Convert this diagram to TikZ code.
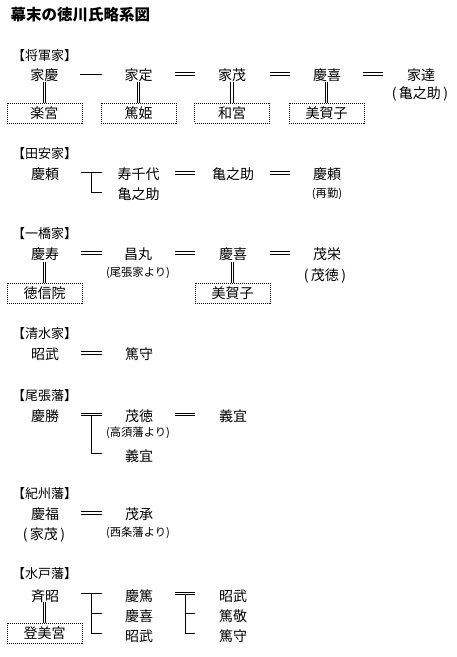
\documentclass[tikz,border=0pt]{standalone}
\usepackage{fontspec}
\setmainfont{Noto Sans CJK JP}
\begin{document}
\begin{tikzpicture}[x=1pt,y=-1pt,
  nm/.style={font=\fontsize{14}{14}\selectfont, inner sep=0pt, text height=12.3pt, text depth=1.7pt, anchor=center},
  sm/.style={font=\fontsize{11.3}{11.3}\selectfont, inner sep=0pt, text height=9.9pt, text depth=1.4pt, anchor=center},
  hd/.style={font=\fontsize{13}{13}\selectfont, inner sep=0pt, text height=11.4pt, text depth=1.6pt, anchor=west},
  tt/.style={font=\fontsize{15.5}{15.5}\bfseries\selectfont, inner sep=0pt, text height=13.6pt, text depth=1.9pt, anchor=west},
  bx/.style={draw, dash pattern=on 1pt off 1pt, line width=1pt, minimum width=75pt, minimum height=20pt, inner sep=0pt, font=\fontsize{14}{14}\selectfont, text height=12.3pt, text depth=1.7pt},
  ln/.style={line width=1pt},
  dbl/.style={line width=1pt, double, double distance=1.5pt}]
\useasboundingbox[fill=white] (0,0) rectangle (457,657);
\node[tt] (title) at (10.5,15) {幕末の徳川氏略系図};
% ---- 将軍家
\node[hd] (h1) at (12,56) {【将軍家】};
\node[nm] (a1) at (44.5,75) {家慶};
\node[nm] (a2) at (138.5,75) {家定};
\node[nm] (a3) at (232,75) {家茂};
\node[nm] (a4) at (327,75) {慶喜};
\node[nm] (a5) at (421,75) {家達};
\node[nm] (a5n) at (420,93) {(\,亀之助\,)};
\node[bx] (b1) at (44.5,113) {楽宮};
\node[bx] (b2) at (138.5,113) {篤姫};
\node[bx] (b3) at (232,113) {和宮};
\node[bx] (b4) at (326.5,113) {美賀子};
\coordinate (c1a) at (80,74); \coordinate (c1b) at (102,74);
\coordinate (c2a) at (175,74); \coordinate (c2b) at (195,74);
\coordinate (c3a) at (270,74); \coordinate (c3b) at (290,74);
\coordinate (c4a) at (363,74); \coordinate (c4b) at (383,74);
\draw[ln] (c1a) -- (c1b);
\draw[dbl] (c2a) -- (c2b);
\draw[dbl] (c3a) -- (c3b);
\draw[dbl] (c4a) -- (c4b);
\foreach \b in {b1,b2,b3,b4} \draw[dbl] (\b.north) -- ++(0,-21);
% ---- 田安家
\node[hd] (h2) at (12,154) {【田安家】};
\node[nm] (t1) at (45,174) {慶頼};
\node[nm] (t2) at (138.5,174) {寿千代};
\node[nm] (t3) at (138.5,194) {亀之助};
\node[nm] (t4) at (233,174) {亀之助};
\node[nm] (t5) at (327,174) {慶頼};
\node[sm] (t5n) at (327,193) {(再勤)};
\coordinate (d1a) at (81,172.5); \coordinate (d1b) at (102,172.5);
\coordinate (d1c) at (91,172.5); \coordinate (d1d) at (91,192.5); \coordinate (d1e) at (102,192.5);
\draw[ln] (d1a) -- (d1b);
\draw[ln] (d1c) -- (d1d) -- (d1e);
\coordinate (d2a) at (175,173); \coordinate (d2b) at (195,173);
\coordinate (d3a) at (270,173); \coordinate (d3b) at (290,173);
\draw[dbl] (d2a) -- (d2b);
\draw[dbl] (d3a) -- (d3b);
% ---- 一橋家
\node[hd] (h3) at (12,234) {【一橋家】};
\node[nm] (k1) at (45,254) {慶寿};
\node[nm] (k2) at (138,254) {昌丸};
\node[sm] (k2n) at (138,272) {(尾張家より)};
\node[nm] (k3) at (233,254) {慶喜};
\node[nm] (k4) at (327,254) {茂栄};
\node[nm] (k4n) at (325,275) {(\,茂徳\,)};
\node[bx] (kb1) at (44.5,293) {徳信院};
\node[bx] (kb2) at (232.5,293) {美賀子};
\coordinate (e1a) at (81,253); \coordinate (e1b) at (102,253);
\coordinate (e2a) at (175,253); \coordinate (e2b) at (195,253);
\coordinate (e3a) at (270,253); \coordinate (e3b) at (290,253);
\draw[dbl] (e1a) -- (e1b);
\draw[dbl] (e2a) -- (e2b);
\draw[dbl] (e3a) -- (e3b);
\draw[dbl] (kb1.north) -- ++(0,-21);
\draw[dbl] (kb2.north) -- ++(0,-21);
% ---- 清水家
\node[hd] (h4) at (12,334) {【清水家】};
\node[nm] (s1) at (45,354) {昭武};
\node[nm] (s2) at (139,354) {篤守};
\coordinate (f1a) at (81,353); \coordinate (f1b) at (102,353);
\draw[dbl] (f1a) -- (f1b);
% ---- 尾張藩
\node[hd] (h5) at (12,396) {【尾張藩】};
\node[nm] (o1) at (45,416) {慶勝};
\node[nm] (o2) at (139,416) {茂徳};
\node[sm] (o2n) at (138,432) {(高須藩より)};
\node[nm] (o3) at (139,456) {義宜};
\node[nm] (o4) at (233,416) {義宜};
\coordinate (g1a) at (81,414.5); \coordinate (g1b) at (102,414.5);
\coordinate (g1c) at (91,415.8); \coordinate (g1d) at (91,453.5); \coordinate (g1e) at (102,453.5);
\draw[dbl] (g1a) -- (g1b);
\draw[ln] (g1c) -- (g1d) -- (g1e);
\coordinate (g2a) at (175,414.5); \coordinate (g2b) at (195,414.5);
\draw[dbl] (g2a) -- (g2b);
% ---- 紀州藩
\node[hd] (h6) at (12,494) {【紀州藩】};
\node[nm] (w1) at (45,514) {慶福};
\node[nm] (w1n) at (44,534) {(\,家茂\,)};
\node[nm] (w2) at (139,514) {茂承};
\node[sm] (w2n) at (138,532) {(西条藩より)};
\coordinate (h1a) at (81,513); \coordinate (h1b) at (102,513);
\draw[dbl] (h1a) -- (h1b);
% ---- 水戸藩
\node[hd] (h7) at (12,574) {【水戸藩】};
\node[nm] (m1) at (45,596) {斉昭};
\node[nm] (m2) at (139,596) {慶篤};
\node[nm] (m3) at (139,616) {慶喜};
\node[nm] (m4) at (139,636) {昭武};
\node[nm] (m5) at (233,596) {昭武};
\node[nm] (m6) at (233,616) {篤敬};
\node[nm] (m7) at (233,636) {篤守};
\node[bx] (mb1) at (44.5,633) {登美宮};
\draw[dbl] (mb1.north) -- ++(0,-21);
\coordinate (i1a) at (81,593.5); \coordinate (i1b) at (102,593.5);
\coordinate (i1c) at (91,593.5); \coordinate (i1d) at (91,633.5); \coordinate (i1e) at (102,633.5);
\coordinate (i1f) at (91,613.5); \coordinate (i1g) at (102,613.5);
\draw[ln] (i1a) -- (i1b);
\draw[ln] (i1c) -- (i1d) -- (i1e);
\draw[ln] (i1f) -- (i1g);
\coordinate (i2a) at (175,593.5); \coordinate (i2b) at (195,593.5);
\coordinate (i2c) at (185,594.8); \coordinate (i2d) at (185,633.5); \coordinate (i2e) at (195,633.5);
\coordinate (i2f) at (185,613.5); \coordinate (i2g) at (195,613.5);
\draw[dbl] (i2a) -- (i2b);
\draw[ln] (i2c) -- (i2d) -- (i2e);
\draw[ln] (i2f) -- (i2g);
\end{tikzpicture}
\end{document}
